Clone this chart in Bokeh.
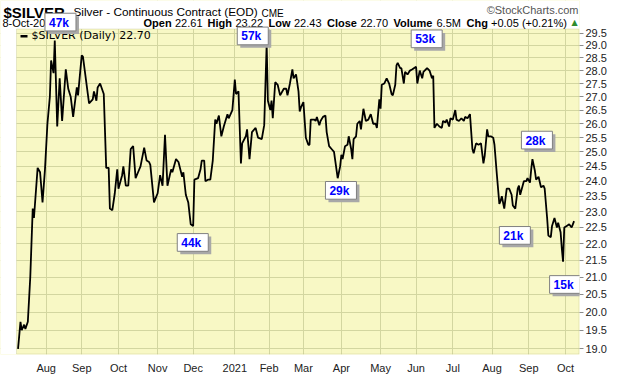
import math
import pandas as pd
from bokeh.plotting import figure
from bokeh.models import (ColumnDataSource, Range1d, FixedTicker, PrintfTickFormatter,
                          CustomJSTickFormatter, Label, BoxAnnotation)
from bokeh.embed import file_html
from bokeh.resources import INLINE

# ---------------- data ----------------
DATES = [
    "2020-07-11", "2020-07-13", "2020-07-14", "2020-07-16", "2020-07-17", "2020-07-19",
    "2020-07-21", "2020-07-23", "2020-07-24", "2020-07-27", "2020-07-29", "2020-07-31",
    "2020-08-02", "2020-08-04", "2020-08-06", "2020-08-07", "2020-08-09", "2020-08-10",
    "2020-08-12", "2020-08-14", "2020-08-16", "2020-08-19", "2020-08-21", "2020-08-23",
    "2020-08-25", "2020-08-28", "2020-08-29",
    "2020-09-01", "2020-09-02", "2020-09-06", "2020-09-07", "2020-09-10", "2020-09-11",
    "2020-09-13", "2020-09-14", "2020-09-16", "2020-09-19", "2020-09-21", "2020-09-23",
    "2020-09-24", "2020-09-26", "2020-09-28", "2020-09-30",
    "2020-10-01", "2020-10-04", "2020-10-05", "2020-10-07", "2020-10-09", "2020-10-11",
    "2020-10-13", "2020-10-15", "2020-10-17", "2020-10-19", "2020-10-22", "2020-10-24",
    "2020-10-26", "2020-10-27", "2020-10-30",
    "2020-11-02", "2020-11-04", "2020-11-06", "2020-11-08", "2020-11-10", "2020-11-13",
    "2020-11-14", "2020-11-17", "2020-11-19", "2020-11-22", "2020-11-23", "2020-11-25",
    "2020-11-27", "2020-11-29",
    "2020-12-01", "2020-12-02", "2020-12-05", "2020-12-07", "2020-12-08", "2020-12-10",
    "2020-12-11", "2020-12-13", "2020-12-15", "2020-12-17", "2020-12-19", "2020-12-20",
    "2020-12-22", "2020-12-24", "2020-12-26", "2020-12-29", "2020-12-30",
    "2021-01-02", "2021-01-04", "2021-01-05", "2021-01-07", "2021-01-09", "2021-01-10",
    "2021-01-13", "2021-01-14", "2021-01-16", "2021-01-18", "2021-01-21", "2021-01-23",
    "2021-01-26", "2021-01-28", "2021-01-30", "2021-01-31",
    "2021-02-02", "2021-02-03", "2021-02-04", "2021-02-06", "2021-02-08", "2021-02-10",
    "2021-02-13", "2021-02-15", "2021-02-16", "2021-02-18", "2021-02-20", "2021-02-21",
    "2021-02-23", "2021-02-25", "2021-02-26", "2021-02-27",
    "2021-03-01", "2021-03-03", "2021-03-05", "2021-03-06", "2021-03-07", "2021-03-10",
    "2021-03-11", "2021-03-12", "2021-03-14", "2021-03-15", "2021-03-17", "2021-03-19",
    "2021-03-20", "2021-03-22", "2021-03-24", "2021-03-26", "2021-03-27", "2021-03-29",
    "2021-03-31",
    "2021-04-01", "2021-04-02", "2021-04-04", "2021-04-06", "2021-04-07", "2021-04-09",
    "2021-04-10", "2021-04-11", "2021-04-13", "2021-04-14", "2021-04-16", "2021-04-17",
    "2021-04-19", "2021-04-21", "2021-04-23", "2021-04-25", "2021-04-27", "2021-04-29",
    "2021-04-30",
    "2021-05-02", "2021-05-03", "2021-05-04", "2021-05-06", "2021-05-08", "2021-05-10",
    "2021-05-12", "2021-05-13", "2021-05-15", "2021-05-16", "2021-05-17", "2021-05-19",
    "2021-05-20", "2021-05-22", "2021-05-23", "2021-05-25", "2021-05-27", "2021-05-29",
    "2021-06-01", "2021-06-02", "2021-06-04", "2021-06-06", "2021-06-07", "2021-06-10",
    "2021-06-12", "2021-06-14", "2021-06-15", "2021-06-16", "2021-06-18", "2021-06-20",
    "2021-06-22", "2021-06-23", "2021-06-25", "2021-06-26", "2021-06-28", "2021-06-29",
    "2021-07-01", "2021-07-03", "2021-07-04", "2021-07-06", "2021-07-08", "2021-07-10",
    "2021-07-11", "2021-07-13", "2021-07-15", "2021-07-17", "2021-07-18", "2021-07-20",
    "2021-07-22", "2021-07-24", "2021-07-26", "2021-07-27", "2021-07-29", "2021-07-30",
    "2021-08-01", "2021-08-03", "2021-08-04", "2021-08-06", "2021-08-08", "2021-08-09",
    "2021-08-10", "2021-08-12", "2021-08-14", "2021-08-16", "2021-08-18", "2021-08-19",
    "2021-08-21", "2021-08-23", "2021-08-24", "2021-08-25", "2021-08-27", "2021-08-28",
    "2021-08-30", "2021-08-31",
    "2021-09-02", "2021-09-03", "2021-09-04", "2021-09-06", "2021-09-07", "2021-09-09",
    "2021-09-11", "2021-09-13", "2021-09-14", "2021-09-16", "2021-09-17", "2021-09-19",
    "2021-09-20", "2021-09-22", "2021-09-24", "2021-09-25", "2021-09-27", "2021-09-28",
    "2021-09-29", "2021-09-30",
    "2021-10-02", "2021-10-04", "2021-10-06", "2021-10-07", "2021-10-08",
]
CLOSE = [
    19.00, 19.73, 19.50, 19.65, 19.53, 19.73,
    21.00, 23.10, 22.80, 24.45, 24.30, 23.30,
    24.40, 26.00, 27.00, 28.40, 27.90, 29.20,
    25.90, 27.70, 26.10, 28.05, 27.30, 27.00,
    26.25, 27.35, 27.05,
    28.60, 28.55, 27.10, 26.75, 26.90, 27.20,
    26.85, 27.35, 27.50, 27.10, 24.45, 24.45,
    23.10, 23.05, 23.60, 24.40,
    23.75, 24.20, 24.50, 23.85, 23.85, 25.10,
    25.20, 24.10, 24.30, 24.50, 25.15, 24.70,
    24.65, 24.55, 23.30,
    23.60, 24.20, 23.85, 25.60, 23.85, 24.40,
    24.30, 24.75, 24.65, 24.15, 24.30, 23.55,
    23.30, 22.60,
    22.55, 24.05, 24.10, 24.40, 24.70, 24.70,
    24.00, 24.05, 24.05, 24.70, 26.15, 26.00,
    26.30, 25.55, 25.90, 26.35, 26.20,
    26.50, 27.65, 27.10, 27.20, 24.60, 25.30,
    25.55, 25.80, 24.75, 25.70, 25.85, 25.50,
    25.45, 25.95, 29.05, 26.85,
    26.50, 26.85, 26.20, 27.55, 27.45, 27.05,
    27.30, 27.30, 27.05, 27.50, 28.05, 27.70,
    27.85, 27.20, 26.45, 26.60,
    26.80, 25.50, 25.25, 25.25, 26.15, 26.15,
    26.10, 26.25, 25.95, 26.10, 26.25, 26.30,
    25.70, 25.20, 25.10, 25.00, 24.70, 24.10,
    24.50,
    24.90, 24.75, 25.20, 25.25, 25.55, 25.10,
    24.75, 25.45, 25.55, 26.00, 26.10, 25.80,
    26.55, 26.10, 26.15, 26.35, 26.00, 26.00,
    25.85,
    26.90, 26.55, 27.45, 27.50, 27.70, 27.50,
    27.10, 27.05, 27.45, 28.20, 28.30, 28.10,
    28.10, 27.50, 27.95, 27.85, 28.00, 28.05,
    28.15, 27.50, 28.00, 27.70, 27.95, 28.10,
    28.00, 27.70, 27.80, 25.85, 26.00, 25.90,
    25.85, 26.10, 26.05, 26.15, 25.90, 26.20,
    26.15, 26.50, 26.15, 26.10, 26.20, 26.10,
    26.25, 26.20, 26.35, 25.10, 24.95, 25.30,
    25.25, 25.30, 24.60, 24.85, 25.80, 25.55,
    25.55, 25.50, 25.25, 24.20, 23.25, 23.35,
    23.50, 23.10, 23.75, 23.75, 23.55, 23.20,
    23.10, 23.75, 23.85, 23.55, 23.85, 24.00,
    24.00, 24.10,
    23.95, 24.40, 24.75, 24.35, 24.05, 24.15,
    23.80, 23.85, 23.75, 22.80, 22.25, 22.20,
    22.55, 22.80, 22.50, 22.65, 22.35, 21.85,
    21.45, 22.50,
    22.55, 22.60, 22.50, 22.60, 22.70,
]
Y_TICKS = [19.0, 19.5, 20.0, 20.5, 21.0, 21.5, 22.0, 22.5, 23.0, 23.5, 24.0,
           24.5, 25.0, 25.5, 26.0, 26.5, 27.0, 27.5, 28.0, 28.5, 29.0, 29.5]
MONTH_TICKS = ["2020-08-03", "2020-09-01", "2020-10-01", "2020-11-02", "2020-12-01",
               "2021-01-04", "2021-02-01", "2021-03-01", "2021-04-01", "2021-05-03",
               "2021-06-01", "2021-07-01", "2021-08-02", "2021-09-01", "2021-10-01"]
MONTH_LABELS = ["Aug", "Sep", "Oct", "Nov", "Dec", "2021", "Feb", "Mar", "Apr", "May",
                "Jun", "Jul", "Aug", "Sep", "Oct"]

# volume callouts: text and the (date, price) of each box's top-left corner
CALLOUT_TEXT = ["47k", "57k", "53k", "44k", "29k", "28k", "21k", "15k"]
CALLOUT_DATE = ["2020-08-02", "2021-01-06", "2021-05-28", "2020-11-18",
                "2021-03-19", "2021-08-26", "2021-08-08", "2021-09-18"]
CALLOUT_PRICE = [30.33, 29.75, 29.63, 22.31, 23.99, 25.73, 22.53, 21.04]

TITLE_SYMBOL = "$SILVER"
TITLE_NAME = "Silver - Continuous Contract (EOD)"
EXCHANGE = "CME"
BRAND = "\u00a9StockCharts.com"
AS_OF = "8-Oct-2021"
QUOTE_FIELDS = ["Open", "High", "Low", "Close", "Volume", "Chg"]
QUOTE_VALUES = ["22.61", "23.22", "22.43", "22.70", "6.5M", "+0.05 (+0.21%)"]
LEGEND_TEXT = "$SILVER (Daily) 22.70"

# ---------------- layout / style ----------------
W, H = 620, 376
# chart (price) area on the canvas
CL, CR, CT, CB = 16, 579, 29, 360
# plotting frame: covers the header too so the header texts and callouts are not clipped
FL, FT = 0, 0
XA0 = pd.Timestamp("2020-07-09 18:00")     # date at the chart area's left edge
XA1 = pd.Timestamp("2021-10-12 10:20")     # date at the chart area's right edge
Y_MIN, Y_MAX = 18.85, 29.67                # prices at the chart area's bottom / top

BG = "#F8F8C5"
GRID = "#D3D6A0"
OUTLINE = "#B3B57E"
SANS = "Liberation Sans"


def ms(t):
    return pd.Timestamp(t).value / 1e6


PPX = (ms(XA1) - ms(XA0)) / (CR - CL)
LPP = (math.log(Y_MAX) - math.log(Y_MIN)) / (CB - CT)


def px_x(px):
    return ms(XA0) + (px - CL) * PPX


def px_y(py):
    return math.exp(math.log(Y_MAX) - (py - CT) * LPP)


def x_px(x):
    return CL + (x - ms(XA0)) / PPX


def y_px(y):
    return CT + (math.log(Y_MAX) - math.log(y)) / LPP


src = ColumnDataSource(dict(date=pd.to_datetime(DATES), close=CLOSE))

p = figure(width=W, height=H, x_axis_type="datetime", y_axis_type="log",
           y_axis_location="right",
           x_range=Range1d(px_x(FL), px_x(CR)), y_range=Range1d(px_y(CB), px_y(FT)),
           output_backend="svg", toolbar_location=None,
           min_border_left=FL, min_border_right=W - CR,
           min_border_top=FT, min_border_bottom=H - CB)
p.background_fill_color = BG
p.border_fill_color = "white"
p.outline_line_color = None

# y axis (right)
ya = p.yaxis[0]
ya.ticker = FixedTicker(ticks=Y_TICKS)
ya.formatter = PrintfTickFormatter(format="%.1f")
ya.axis_line_color = None
ya.major_tick_in = 0
ya.major_tick_out = 4
ya.major_tick_line_color = "#8A8A8A"
ya.minor_tick_line_color = None
ya.major_label_standoff = 2
ya.major_label_text_font = SANS
ya.major_label_text_font_size = "11px"
ya.major_label_text_color = "#222222"

# x axis (bottom)
tick_ms = [ms(d) for d in MONTH_TICKS]
xa = p.xaxis[0]
xa.ticker = FixedTicker(ticks=tick_ms)
xa.formatter = CustomJSTickFormatter(args=dict(tv=tick_ms, tl=MONTH_LABELS), code="""
let best = 0, bd = Infinity;
for (let i = 0; i < tv.length; i++) {
  const d = Math.abs(tv[i] - tick);
  if (d < bd) { bd = d; best = i; }
}
return tl[best];
""")
xa.axis_line_color = None
xa.major_tick_line_color = None
xa.minor_tick_line_color = None
xa.major_label_standoff = 1
xa.major_label_text_font = SANS
xa.major_label_text_font_size = "11px"
xa.major_label_text_color = "#222222"

p.xgrid.grid_line_color = GRID
p.ygrid.grid_line_color = GRID

p.line(x="date", y="close", source=src, line_color="black", line_width=1.8)

# white margins (header band and left strip) over the frame, then the chart outline
p.add_layout(BoxAnnotation(left=px_x(FL), right=px_x(CR), top=px_y(FT), bottom=px_y(CT),
                           fill_color="white", fill_alpha=1, line_alpha=0))
p.add_layout(BoxAnnotation(left=px_x(FL), right=px_x(CL), top=px_y(CT), bottom=px_y(CB),
                           fill_color="white", fill_alpha=1, line_alpha=0))
p.add_layout(BoxAnnotation(left=px_x(CL), right=px_x(CR) - 0.5 * PPX,
                           top=px_y(CT), bottom=px_y(CB - 0.5),
                           fill_color=None, line_color=OUTLINE, line_width=1))


def text(t, px, py, size="11px", bold=False, color="black", font=SANS, align="left"):
    p.add_layout(Label(x=px_x(px), y=px_y(py), text=t, text_font=font,
                       text_font_size=size, text_font_style="bold" if bold else "normal",
                       text_color=color, text_align=align, text_baseline="middle"))


# header
text(TITLE_SYMBOL, 3, 12, size="15px", bold=True)
text(TITLE_NAME, 73, 12, size="11.8px")
text(EXCHANGE, 261, 13, size="10px")
text(BRAND, 578, 10, size="11px", color="#555555", align="right")
text(AS_OF, 2, 23, size="11px")
field_x = [143, 207, 268, 326.5, 393, 466]
value_x = [174.5, 235, 293.5, 360, 436, 490.5]
for f, v, fx, vx in zip(QUOTE_FIELDS, QUOTE_VALUES, field_x, value_x):
    text(f, fx, 23, size="11px", bold=True)
    text(v, vx, 23, size="11px")
text("\u25b2", 571, 22, size="8px", color="#2E8B2E", font="DejaVu Sans")

# legend
p.add_layout(BoxAnnotation(left=px_x(20), right=px_x(27), top=px_y(35), bottom=px_y(37.5),
                           fill_color="black", fill_alpha=1, line_alpha=0))
text(LEGEND_TEXT, 31, 36, size="11px", font="DejaVu Sans")

# volume callouts
BW, BH, SH = 31, 18, 3
for t, d, pr in zip(CALLOUT_TEXT, CALLOUT_DATE, CALLOUT_PRICE):
    ax, ay = x_px(ms(d)), y_px(pr)
    p.add_layout(BoxAnnotation(left=px_x(ax + SH), right=px_x(ax + SH + BW),
                               top=px_y(ay + SH), bottom=px_y(ay + SH + BH),
                               fill_color="#A8A8A8", fill_alpha=1, line_alpha=0))
    p.add_layout(BoxAnnotation(left=px_x(ax), right=px_x(ax + BW),
                               top=px_y(ay), bottom=px_y(ay + BH),
                               fill_color="white", fill_alpha=1,
                               line_color="#808080", line_width=1, line_alpha=1))
    text(t, ax + 4, ay + BH / 2 + 0.5, size="12px", bold=True, color="#0000FF")

open("out.html", "w").write(file_html(p, INLINE))
